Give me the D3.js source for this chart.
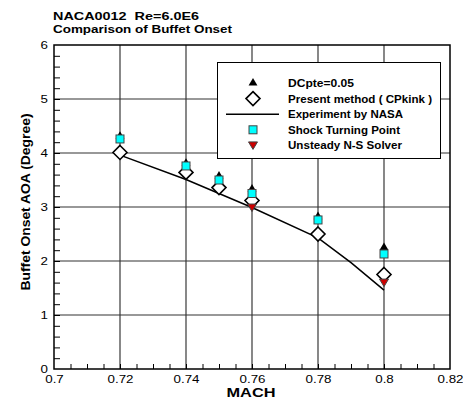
<!DOCTYPE html>
<html>
<head>
<meta charset="utf-8">
<script src="https://cdn.jsdelivr.net/npm/d3@7"></script>
<style>
  body { margin: 0; background: #fff; }
  svg { display: block; font-family: "Liberation Sans", Arial, sans-serif; }
  text { white-space: pre; }
</style>
</head>
<body>
<svg id="chart" width="463" height="401"></svg>
<script>
// values
const machTicks = [0.7, 0.72, 0.74, 0.76, 0.78, 0.8, 0.82];
const aoaTicks = [0, 1, 2, 3, 4, 5, 6];

const expMach = [0.72, 0.74, 0.76, 0.78, 0.79, 0.80];
const expAoa = [3.96, 3.51, 2.99, 2.43, 1.97, 1.46];

const ptMach = [0.72, 0.74, 0.75, 0.76, 0.78, 0.80];
const dcpteAoa = [4.31, 3.81, 3.57, 3.33, 2.82, 2.25];
const shockAoa = [4.26, 3.76, 3.50, 3.25, 2.76, 2.13];
const presentAoa = [4.01, 3.64, 3.36, 3.12, 2.50, 1.75];

const nsMach = [0.76, 0.80];
const nsAoa = [2.99, 1.60];

const legendLabels = ['DCpte=0.05', 'Present method ( CPkink )', 'Experiment by NASA',
  'Shock Turning Point', 'Unsteady N-S Solver'];
const legendWidths = [66, 144, 115, 112, 114];

const svg = d3.select('#chart');
const plotL = 54, plotR = 450, plotT = 45, plotB = 369;

const x = d3.scaleLinear([0.7, 0.82], [plotL, plotR]);
const y = d3.scaleLinear([0, 6], [plotB, plotT]);

// the original font is drawn wider than Liberation Sans
const stretch = (sel, w) => sel.attr('textLength', w).attr('lengthAdjust', 'spacingAndGlyphs');
const widen = (sel, k) => sel.each(function () {
  d3.select(this).call(stretch, this.getComputedTextLength() * k);
});

/*
Title
*/
svg.append('text')
  .attr('x', 53).attr('y', 20)
  .style('font-size', '11.5px').style('font-weight', 'bold')
  .text('NACA0012  Re=6.0E6')
  .call(stretch, 146);
svg.append('text')
  .attr('x', 53).attr('y', 33)
  .style('font-size', '11.5px').style('font-weight', 'bold')
  .text('Comparison of Buffet Onset')
  .call(stretch, 179);

/*
Grid lines
*/
svg.append('g').selectAll('line')
  .data(machTicks.slice(1, -1))
  .join('line')
  .attr('x1', d => x(d)).attr('x2', d => x(d))
  .attr('y1', plotT).attr('y2', plotB)
  .style('stroke', '#555').style('stroke-width', 1.4);

svg.append('g').selectAll('line')
  .data(aoaTicks.slice(1, -1))
  .join('line')
  .attr('x1', plotL).attr('x2', plotR)
  .attr('y1', d => y(d)).attr('y2', d => y(d))
  .style('stroke', '#333').style('stroke-width', 1.2);

/*
Minor ticks, pointing inside
*/
svg.append('g')
  .attr('transform', `translate(0,${plotB})`)
  .call(d3.axisTop(x).tickValues(d3.range(0.705, 0.82, 0.005)).tickSize(5).tickFormat(''))
  .call(g => g.select('.domain').remove())
  .selectAll('line').style('stroke', '#000');

svg.append('g')
  .attr('transform', `translate(${plotL},0)`)
  .call(d3.axisRight(y).tickValues(d3.range(0.2, 6, 0.2)).tickSize(6).tickFormat(''))
  .call(g => g.select('.domain').remove())
  .selectAll('line').style('stroke', '#000');

/*
Tick labels
*/
svg.append('g')
  .attr('transform', `translate(0,${plotB})`)
  .call(d3.axisBottom(x).tickValues(machTicks).tickSize(0).tickPadding(6).tickFormat(d3.format('')))
  .call(g => g.select('.domain').remove())
  .selectAll('text')
  .style('font-family', '"Liberation Sans", Arial, sans-serif')
  .style('font-size', '11.5px').attr('fill', '#000')
  .call(widen, 1.16);

svg.append('g')
  .attr('transform', `translate(${plotL},0)`)
  .call(d3.axisLeft(y).tickValues(aoaTicks).tickSize(0).tickPadding(6).tickFormat(d3.format('d')))
  .call(g => g.select('.domain').remove())
  .selectAll('text')
  .style('font-family', '"Liberation Sans", Arial, sans-serif')
  .style('font-size', '11.5px').attr('fill', '#000')
  .call(widen, 1.16);

/*
Plot frame
*/
svg.append('rect')
  .attr('x', plotL).attr('y', plotT)
  .attr('width', plotR - plotL).attr('height', plotB - plotT)
  .style('fill', 'none').style('stroke', '#000').style('stroke-width', 1.5);

/*
Axis titles
*/
svg.append('text')
  .attr('x', 251).attr('y', 396.5)
  .attr('text-anchor', 'middle')
  .style('font-size', '13px').style('font-weight', 'bold')
  .text('MACH')
  .call(stretch, 49);
svg.append('text')
  .attr('transform', 'translate(29.5,202) rotate(-90)')
  .attr('text-anchor', 'middle')
  .style('font-size', '13.5px').style('font-weight', 'bold')
  .text('Buffet Onset AOA (Degree)')
  .call(stretch, 177);

/*
Symbols
*/
const triUp = d3.symbol().type(d3.symbolTriangle).size(34);
const triDown = 'M-4.5,-3.5L4.5,-3.5L0,4Z';
const diamond = 'M0,-7L7,0L0,7L-7,0Z';

function drawSymbol(g, kind) {
  if (kind === 'dcpte') {
    g.append('path').attr('d', triUp()).style('fill', '#000');
  } else if (kind === 'present') {
    g.append('path').attr('d', diamond)
      .style('fill', '#fff').style('stroke', '#000').style('stroke-width', 1.6);
  } else if (kind === 'shock') {
    g.append('rect').attr('x', -4).attr('y', -4).attr('width', 8).attr('height', 8)
      .style('fill', '#00ffff').style('stroke', '#444').style('stroke-width', 1);
  } else if (kind === 'ns') {
    g.append('path').attr('d', triDown)
      .style('fill', '#cc0000').style('stroke', '#444').style('stroke-width', 1);
  }
}

/*
Experiment line
*/
const line = d3.line()
  .x((d, i) => x(expMach[i]))
  .y(d => y(d));
svg.append('path')
  .datum(expAoa)
  .attr('d', line)
  .style('fill', 'none').style('stroke', '#000').style('stroke-width', 1.5);

const series = [
  { kind: 'present', mach: ptMach, aoa: presentAoa },
  { kind: 'dcpte', mach: ptMach, aoa: dcpteAoa },
  { kind: 'shock', mach: ptMach, aoa: shockAoa },
  { kind: 'ns', mach: nsMach, aoa: nsAoa }
];
series.forEach(s => {
  s.aoa.forEach((v, i) => {
    const g = svg.append('g').attr('transform', `translate(${x(s.mach[i])},${y(v)})`);
    drawSymbol(g, s.kind);
  });
});

/*
Legend
*/
const legend = svg.append('g');
legend.append('rect')
  .attr('x', 217.5).attr('y', 62.5).attr('width', 223).attr('height', 96)
  .style('fill', '#fff').style('stroke', '#000').style('stroke-width', 1);

const legendKinds = ['dcpte', 'present', 'line', 'shock', 'ns'];
legendKinds.forEach((k, i) => {
  const cy = 83 + i * 15.6;
  if (k === 'line') {
    legend.append('line')
      .attr('x1', 226).attr('x2', 279).attr('y1', cy).attr('y2', cy)
      .style('stroke', '#000').style('stroke-width', 1.5);
  } else {
    const g = legend.append('g').attr('transform', `translate(253,${cy})`);
    drawSymbol(g, k);
  }
  legend.append('text')
    .attr('x', 288).attr('y', cy + 4)
    .style('font-size', '11px').style('font-weight', 'bold')
    .text(legendLabels[i])
    .call(stretch, legendWidths[i]);
});
</script>
</body>
</html>
